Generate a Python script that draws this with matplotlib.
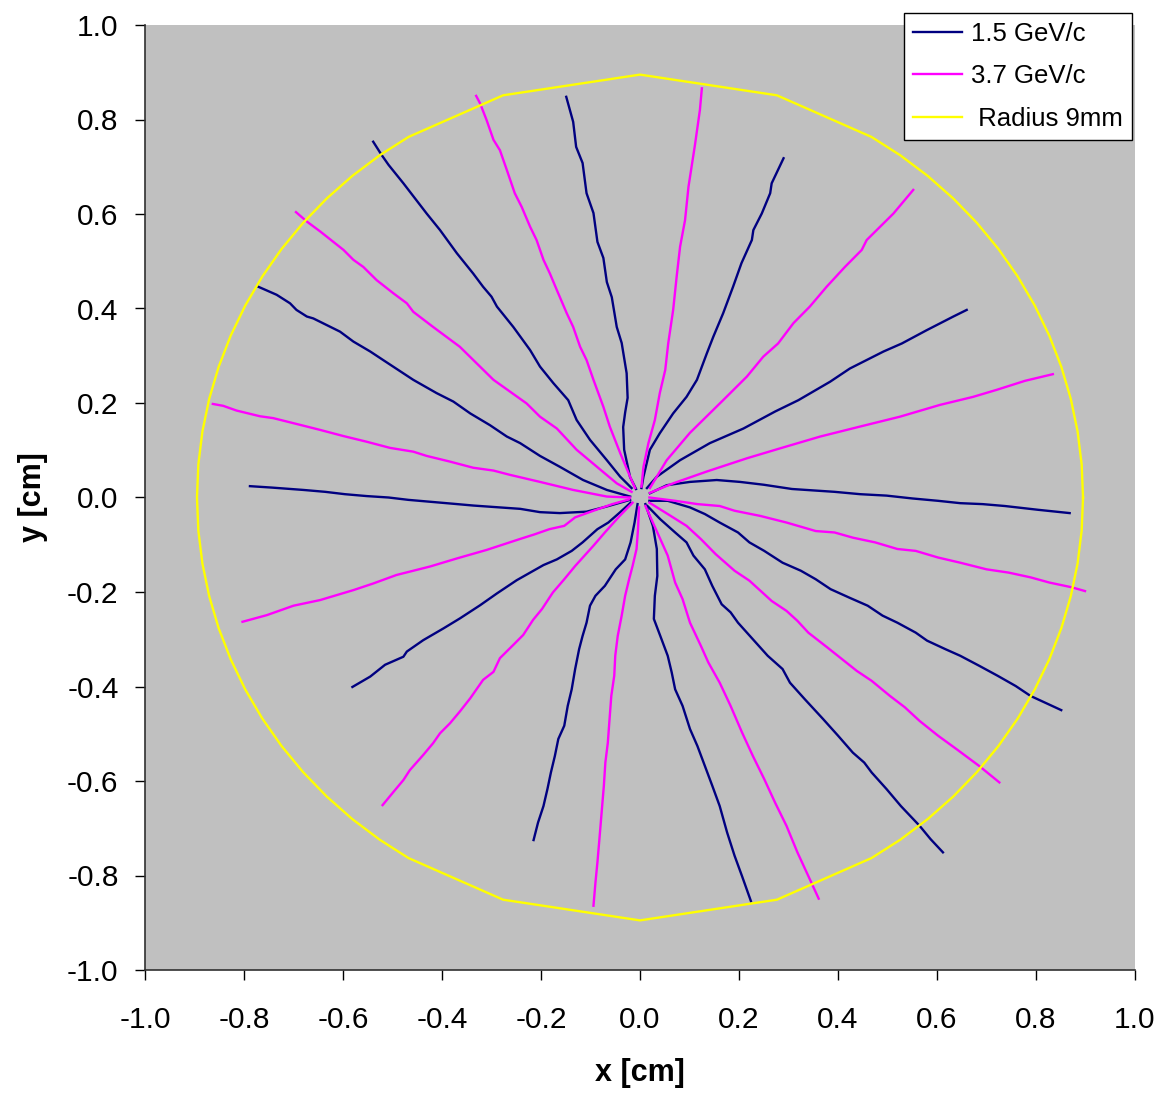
import numpy as np
import matplotlib
matplotlib.use('Agg')
import matplotlib.pyplot as plt
import matplotlib.ticker as ticker

plt.rcParams['font.family'] = ['Liberation Sans', 'DejaVu Sans']

# == tracks for 1.5 GeV/c (x [cm], y [cm])
p15_w = [(-0.020, -0.005), (-0.067, -0.019), (-0.108, -0.030), (-0.162, -0.033), (-0.202, -0.031),
         (-0.242, -0.024), (-0.283, -0.021), (-0.337, -0.017), (-0.380, -0.013), (-0.424, -0.009),
         (-0.468, -0.005), (-0.508, 0.000), (-0.552, 0.003), (-0.596, 0.007), (-0.636, 0.012),
         (-0.680, 0.016), (-0.744, 0.021), (-0.788, 0.024)]
p15_wnw = [(-0.020, 0.002), (-0.067, 0.016), (-0.115, 0.037), (-0.162, 0.065), (-0.202, 0.088),
           (-0.242, 0.115), (-0.269, 0.129), (-0.303, 0.153), (-0.343, 0.178), (-0.377, 0.203),
           (-0.411, 0.221), (-0.458, 0.249), (-0.519, 0.291), (-0.545, 0.309), (-0.579, 0.330),
           (-0.606, 0.351), (-0.660, 0.379), (-0.673, 0.383), (-0.694, 0.397), (-0.707, 0.411),
           (-0.734, 0.429), (-0.771, 0.446)]
p15_nw = [(-0.017, 0.020), (-0.040, 0.044), (-0.067, 0.079), (-0.101, 0.122), (-0.128, 0.164),
          (-0.145, 0.206), (-0.175, 0.242), (-0.202, 0.277), (-0.222, 0.312), (-0.256, 0.361),
          (-0.289, 0.404), (-0.300, 0.425), (-0.317, 0.446), (-0.337, 0.474), (-0.370, 0.517),
          (-0.404, 0.566), (-0.431, 0.601), (-0.478, 0.665), (-0.508, 0.704), (-0.522, 0.725),
          (-0.539, 0.753)]
p15_n = [(-0.008, 0.018), (-0.020, 0.043), (-0.032, 0.101), (-0.034, 0.149), (-0.030, 0.180),
         (-0.025, 0.211), (-0.027, 0.263), (-0.037, 0.327), (-0.047, 0.361), (-0.057, 0.424),
         (-0.067, 0.456), (-0.074, 0.507), (-0.086, 0.541), (-0.094, 0.602), (-0.108, 0.644),
         (-0.116, 0.708), (-0.129, 0.742), (-0.135, 0.795), (-0.149, 0.848)]
p15_ne = [(0.003, 0.020), (0.007, 0.044), (0.020, 0.101), (0.040, 0.136), (0.067, 0.178),
          (0.094, 0.213), (0.115, 0.249), (0.135, 0.305), (0.148, 0.340), (0.168, 0.390),
          (0.188, 0.446), (0.205, 0.496), (0.226, 0.545), (0.229, 0.566), (0.246, 0.601),
          (0.263, 0.644), (0.266, 0.665), (0.290, 0.718)]
p15_ene = [(0.014, 0.020), (0.034, 0.044), (0.081, 0.079), (0.141, 0.115), (0.209, 0.146),
           (0.273, 0.182), (0.320, 0.206), (0.384, 0.245), (0.424, 0.273), (0.492, 0.309),
           (0.529, 0.326), (0.579, 0.354), (0.633, 0.383), (0.660, 0.397)]
p15_e = [(0.020, 0.009), (0.054, 0.026), (0.101, 0.033), (0.155, 0.037), (0.202, 0.033),
         (0.250, 0.027), (0.307, 0.018), (0.393, 0.012), (0.445, 0.007), (0.498, 0.004),
         (0.550, -0.002), (0.602, -0.007), (0.647, -0.012), (0.692, -0.014), (0.737, -0.018),
         (0.804, -0.026), (0.868, -0.033)]
p15_ese = [(0.019, -0.007), (0.056, -0.007), (0.101, -0.021), (0.131, -0.035), (0.161, -0.053),
           (0.198, -0.074), (0.221, -0.095), (0.251, -0.113), (0.288, -0.138), (0.325, -0.155),
           (0.355, -0.173), (0.385, -0.194), (0.423, -0.212), (0.460, -0.229), (0.490, -0.250),
           (0.520, -0.265), (0.557, -0.286), (0.580, -0.303), (0.617, -0.321), (0.647, -0.335),
           (0.685, -0.356), (0.722, -0.377), (0.759, -0.399), (0.789, -0.420), (0.851, -0.450)]
p15_se = [(0.015, -0.018), (0.041, -0.046), (0.071, -0.074), (0.094, -0.095), (0.108, -0.123),
          (0.131, -0.152), (0.146, -0.187), (0.165, -0.226), (0.183, -0.243), (0.198, -0.265),
          (0.228, -0.300), (0.258, -0.335), (0.288, -0.363), (0.303, -0.392), (0.333, -0.427),
          (0.370, -0.469), (0.400, -0.504), (0.430, -0.540), (0.453, -0.561), (0.468, -0.582),
          (0.498, -0.617), (0.527, -0.653), (0.565, -0.695), (0.587, -0.723), (0.612, -0.751)]
p15_s = [(0.011, -0.014), (0.026, -0.060), (0.034, -0.109), (0.035, -0.166), (0.030, -0.208),
         (0.028, -0.257), (0.041, -0.293), (0.056, -0.335), (0.064, -0.370), (0.071, -0.406),
         (0.086, -0.441), (0.101, -0.490), (0.116, -0.526), (0.131, -0.568), (0.146, -0.610),
         (0.161, -0.653), (0.176, -0.709), (0.191, -0.758), (0.206, -0.801), (0.224, -0.854)]
p15_sw = [(-0.005, -0.014), (-0.011, -0.053), (-0.019, -0.095), (-0.030, -0.131), (-0.049, -0.152),
          (-0.071, -0.187), (-0.090, -0.208), (-0.101, -0.229), (-0.108, -0.265), (-0.116, -0.293),
          (-0.123, -0.321), (-0.131, -0.363), (-0.138, -0.406), (-0.146, -0.441), (-0.153, -0.483),
          (-0.165, -0.511), (-0.172, -0.547), (-0.180, -0.582), (-0.187, -0.617), (-0.195, -0.653),
          (-0.206, -0.688), (-0.215, -0.725)]
p15_wsw = [(-0.019, -0.011), (-0.041, -0.032), (-0.064, -0.053), (-0.086, -0.067), (-0.116, -0.095),
           (-0.138, -0.113), (-0.168, -0.131), (-0.195, -0.143), (-0.249, -0.175), (-0.289, -0.203),
           (-0.323, -0.228), (-0.364, -0.256), (-0.397, -0.277), (-0.438, -0.302), (-0.471, -0.326),
           (-0.478, -0.337), (-0.515, -0.354), (-0.545, -0.379), (-0.581, -0.401)]

# == tracks for 3.7 GeV/c
p37_wnw = [(-0.020, 0.000), (-0.067, 0.002), (-0.135, 0.016), (-0.202, 0.033), (-0.263, 0.048),
           (-0.296, 0.057), (-0.337, 0.063), (-0.384, 0.076), (-0.431, 0.088), (-0.458, 0.097),
           (-0.505, 0.105), (-0.552, 0.118), (-0.599, 0.130), (-0.646, 0.143), (-0.680, 0.152),
           (-0.741, 0.168), (-0.768, 0.172), (-0.815, 0.184), (-0.842, 0.194), (-0.863, 0.198)]
p37_nw = [(-0.017, 0.012), (-0.047, 0.030), (-0.087, 0.065), (-0.128, 0.101), (-0.168, 0.146),
          (-0.202, 0.171), (-0.229, 0.199), (-0.296, 0.249), (-0.364, 0.319), (-0.391, 0.340),
          (-0.418, 0.361), (-0.458, 0.393), (-0.471, 0.411), (-0.498, 0.432), (-0.532, 0.460),
          (-0.559, 0.488), (-0.579, 0.503), (-0.599, 0.524), (-0.646, 0.563), (-0.673, 0.584),
          (-0.695, 0.604)]
p37_nnw = [(-0.010, 0.020), (-0.020, 0.044), (-0.040, 0.094), (-0.061, 0.150), (-0.074, 0.192),
           (-0.094, 0.249), (-0.108, 0.291), (-0.121, 0.319), (-0.135, 0.361), (-0.148, 0.390),
           (-0.168, 0.439), (-0.182, 0.474), (-0.195, 0.503), (-0.209, 0.545), (-0.222, 0.573),
           (-0.239, 0.615), (-0.253, 0.644), (-0.269, 0.693), (-0.283, 0.735), (-0.296, 0.757),
           (-0.310, 0.799), (-0.323, 0.834), (-0.331, 0.850)]
p37_n = [(0.003, 0.023), (0.007, 0.065), (0.017, 0.115), (0.030, 0.164), (0.040, 0.221),
         (0.051, 0.270), (0.057, 0.326), (0.067, 0.397), (0.074, 0.467), (0.081, 0.531),
         (0.091, 0.587), (0.098, 0.658), (0.111, 0.746), (0.121, 0.820), (0.125, 0.866)]
p37_ne = [(0.020, 0.020), (0.054, 0.079), (0.101, 0.137), (0.168, 0.206), (0.216, 0.256),
          (0.249, 0.298), (0.279, 0.326), (0.310, 0.369), (0.343, 0.404), (0.377, 0.446),
          (0.414, 0.488), (0.448, 0.524), (0.458, 0.545), (0.512, 0.601), (0.552, 0.651)]
p37_ene = [(0.020, 0.010), (0.067, 0.030), (0.135, 0.055), (0.216, 0.083), (0.283, 0.104),
           (0.364, 0.129), (0.444, 0.150), (0.525, 0.171), (0.606, 0.196), (0.673, 0.213),
           (0.721, 0.228), (0.778, 0.247), (0.834, 0.261)]
p37_ese = [(0.019, 0.000), (0.071, -0.007), (0.116, -0.014), (0.161, -0.018), (0.191, -0.028),
           (0.243, -0.039), (0.296, -0.053), (0.355, -0.071), (0.393, -0.074), (0.430, -0.085),
           (0.475, -0.095), (0.520, -0.109), (0.557, -0.113), (0.602, -0.127), (0.647, -0.138),
           (0.700, -0.152), (0.745, -0.159), (0.789, -0.169), (0.827, -0.180), (0.872, -0.190),
           (0.899, -0.198)]
p37_se = [(0.019, -0.011), (0.056, -0.035), (0.094, -0.060), (0.123, -0.088), (0.153, -0.120),
          (0.191, -0.155), (0.221, -0.176), (0.266, -0.219), (0.296, -0.240), (0.318, -0.261),
          (0.340, -0.286), (0.378, -0.317), (0.408, -0.342), (0.438, -0.367), (0.468, -0.388),
          (0.505, -0.420), (0.535, -0.444), (0.565, -0.473), (0.602, -0.504), (0.640, -0.533),
          (0.685, -0.568), (0.726, -0.603)]
p37_sse = [(0.011, -0.018), (0.026, -0.053), (0.041, -0.088), (0.056, -0.123), (0.071, -0.180),
           (0.086, -0.215), (0.101, -0.265), (0.123, -0.314), (0.138, -0.349), (0.161, -0.392),
           (0.183, -0.441), (0.206, -0.497), (0.228, -0.547), (0.251, -0.596), (0.273, -0.646),
           (0.296, -0.695), (0.318, -0.751), (0.340, -0.801), (0.361, -0.849)]
p37_s = [(-0.002, -0.021), (-0.004, -0.067), (-0.007, -0.109), (-0.015, -0.145), (-0.022, -0.173),
         (-0.030, -0.208), (-0.037, -0.250), (-0.045, -0.293), (-0.050, -0.335), (-0.052, -0.377),
         (-0.058, -0.420), (-0.062, -0.476), (-0.065, -0.519), (-0.070, -0.561), (-0.073, -0.610),
         (-0.077, -0.660), (-0.082, -0.723), (-0.086, -0.772), (-0.090, -0.815), (-0.094, -0.864)]
p37_sw = [(-0.015, -0.011), (-0.041, -0.039), (-0.071, -0.074), (-0.094, -0.102), (-0.131, -0.145),
          (-0.153, -0.173), (-0.176, -0.201), (-0.198, -0.236), (-0.216, -0.259), (-0.236, -0.291),
          (-0.256, -0.312), (-0.283, -0.340), (-0.296, -0.369), (-0.317, -0.386), (-0.343, -0.425),
          (-0.364, -0.453), (-0.384, -0.478), (-0.404, -0.499), (-0.418, -0.520), (-0.438, -0.545),
          (-0.465, -0.577), (-0.478, -0.598), (-0.498, -0.623), (-0.520, -0.651)]
p37_wsw = [(-0.022, -0.004), (-0.056, -0.014), (-0.094, -0.028), (-0.131, -0.042), (-0.153, -0.060),
           (-0.183, -0.067), (-0.213, -0.078), (-0.243, -0.088), (-0.310, -0.111), (-0.370, -0.129),
           (-0.424, -0.146), (-0.492, -0.164), (-0.539, -0.182), (-0.579, -0.196), (-0.646, -0.217),
           (-0.700, -0.229), (-0.754, -0.249), (-0.803, -0.263)]

# == the 9mm circle, drawn as a polygon through these angles [deg]
circle_r = 0.895
circle_deg = [0, 4.5, 9, 13.5, 18, 22.5, 27, 31.5, 36, 40.5, 45, 49.5, 54, 58.5, 72, 90, 108,
              121.5, 126, 130.5, 135, 139.5, 144, 148.5, 153, 157.5, 162, 166.5, 171, 175.5,
              180, 184.5, 189, 193.5, 198, 202.5, 207, 211.5, 216, 220.5, 225, 229.5, 234,
              238.5, 252, 270, 288, 301.5, 306, 310.5, 315, 319.5, 324, 328.5, 333, 337.5,
              342, 346.5, 351, 355.5, 360]

tracks_15 = [p15_w, p15_wnw, p15_nw, p15_n, p15_ne, p15_ene, p15_e, p15_ese, p15_se, p15_s, p15_sw, p15_wsw]
tracks_37 = [p37_wnw, p37_nw, p37_nnw, p37_n, p37_ne, p37_ene, p37_ese, p37_se, p37_sse, p37_s, p37_sw, p37_wsw]

fig = plt.figure(figsize=(11.65, 10.94), dpi=100)
ax = fig.add_axes([145/1165, 124/1094, 990/1165, 945/1094])
ax.set_facecolor('#C0C0C0')

for i, trk in enumerate(tracks_15):
    xy = np.array(trk)
    ax.plot(xy[:, 0], xy[:, 1], color='#000080', lw=1.7, label='1.5 GeV/c' if i == 0 else None)
for i, trk in enumerate(tracks_37):
    xy = np.array(trk)
    ax.plot(xy[:, 0], xy[:, 1], color='#FF00FF', lw=1.7, label='3.7 GeV/c' if i == 0 else None)

ang = np.radians(circle_deg)
ax.plot(circle_r*np.cos(ang), circle_r*np.sin(ang), color='#FFFF00', lw=1.7, label=' Radius 9mm')

ax.set_xlim(-1, 1)
ax.set_ylim(-1, 1)
ax.xaxis.set_major_locator(ticker.MultipleLocator(0.2))
ax.yaxis.set_major_locator(ticker.MultipleLocator(0.2))
ax.xaxis.set_major_formatter(ticker.FormatStrFormatter('%.1f'))
ax.yaxis.set_major_formatter(ticker.FormatStrFormatter('%.1f'))
ax.tick_params(direction='out', length=7, width=1, labelsize=21.5, colors='black')
ax.tick_params(axis='x', pad=19)
ax.tick_params(axis='y', pad=12)
for side in ['top', 'right']:
    ax.spines[side].set_visible(False)
for side in ['left', 'bottom']:
    ax.spines[side].set_color('#303030')
    ax.spines[side].set_linewidth(1.2)

ax.set_xlabel('x [cm]', fontsize=22, fontweight='bold', labelpad=17)
ax.set_ylabel('y [cm]', fontsize=22, fontweight='bold', labelpad=14)

leg = ax.legend(loc='upper right', bbox_to_anchor=(1132/1165, 1 - 13/1094), bbox_transform=fig.transFigure,
                fontsize=18.5, frameon=True, fancybox=False, framealpha=1, edgecolor='black',
                borderaxespad=0, borderpad=0.36, labelspacing=0.71, handlelength=1.9, handletextpad=0.35)
leg.get_frame().set_linewidth(1.0)

plt.savefig('out.png', dpi=100)
